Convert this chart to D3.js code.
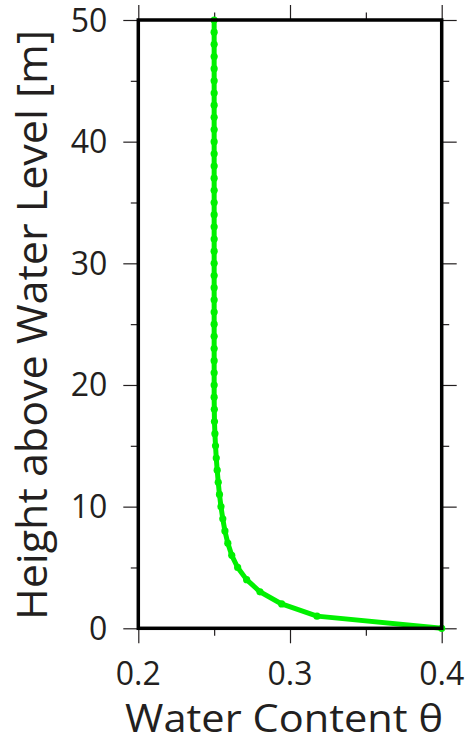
<!DOCTYPE html>
<html>
<head>
<meta charset="utf-8">
<script src="https://cdn.jsdelivr.net/npm/d3@7"></script>
<style>
  body { margin: 0; background: #fff; }
  text { font-family: 'Open Sans', sans-serif; fill: #231f20; }
</style>
</head>
<body>
<div id="chart"></div>
<script>
// height above water level [m], one point per metre
let heights = d3.range(0, 51)
let theta = [
  0.4000, 0.3178, 0.2945, 0.2802, 0.2714, 0.2655, 0.2616, 0.2590, 0.2571, 0.2557,
  0.2545, 0.2535, 0.2527, 0.2520, 0.2514, 0.2509, 0.2505, 0.2502, 0.2501, 0.2500,
  0.2500, 0.2500, 0.2500, 0.2500, 0.2500, 0.2500, 0.2500, 0.2500, 0.2500, 0.2500,
  0.2500, 0.2500, 0.2500, 0.2500, 0.2500, 0.2500, 0.2500, 0.2500, 0.2500, 0.2500,
  0.2500, 0.2500, 0.2500, 0.2500, 0.2500, 0.2500, 0.2500, 0.2500, 0.2500, 0.2500,
  0.2500
]
let xTicks = [0.2, 0.3, 0.4]
let xMinor = [0.25, 0.35]
let yTicks = [0, 10, 20, 30, 40, 50]
let yMinor = [5, 15, 25, 35, 45]
let xTitle = 'Water Content θ'
let yTitle = 'Height above Water Level [m]'

let W = 465
let H = 747
let margin = { top: 20, right: 23.3, bottom: 118.7, left: 138.3 }
let width = W - margin.left - margin.right
let height = H - margin.top - margin.bottom

let svg = d3.select('#chart').append('svg')
  .attr('width', W)
  .attr('height', H)

let g = svg.append('g')
  .attr('transform', 'translate(' + margin.left + ',' + margin.top + ')')

let x = d3.scaleLinear().domain([0.2, 0.4]).range([0, width])
let y = d3.scaleLinear().domain([0, 50]).range([height, 0])

let major = 15
let minor = 7.5

// ticks on all four sides, outside the frame
function tickAxis (axisFn, scale, values, size, pos) {
  let a = g.append('g')
    .attr('transform', pos)
    .call(axisFn(scale).tickValues(values).tickSize(size).tickFormat(''))
  a.select('.domain').remove()
  a.selectAll('line').attr('stroke', '#231f20').attr('stroke-width', 1.2)
  return a
}

tickAxis(d3.axisBottom, x, xTicks, major, 'translate(0,' + height + ')')
tickAxis(d3.axisBottom, x, xMinor, minor, 'translate(0,' + height + ')')
tickAxis(d3.axisTop, x, xTicks, major, 'translate(0,0)')
tickAxis(d3.axisTop, x, xMinor, minor, 'translate(0,0)')
tickAxis(d3.axisLeft, y, yTicks, major, 'translate(0,0)')
tickAxis(d3.axisLeft, y, yMinor, minor, 'translate(0,0)')
tickAxis(d3.axisRight, y, yTicks, major, 'translate(' + width + ',0)')
tickAxis(d3.axisRight, y, yMinor, minor, 'translate(' + width + ',0)')

// tick labels
g.selectAll('.xlab')
  .data(xTicks)
  .enter().append('text')
  .attr('class', 'xlab')
  .attr('x', (d) => x(d))
  .attr('y', height + 57)
  .attr('text-anchor', 'middle')
  .style('font-size', '32px')
  .text((d) => d3.format('.1f')(d))

g.selectAll('.ylab')
  .data(yTicks)
  .enter().append('text')
  .attr('class', 'ylab')
  .attr('x', -31)
  .attr('y', (d) => y(d) + 11.5)
  .attr('text-anchor', 'end')
  .style('font-size', '32px')
  .text((d) => d)

// axis titles: size from the letter height, squeezed to the reference width
svg.append('text')
  .attr('x', 284)
  .attr('y', 732)
  .attr('text-anchor', 'middle')
  .style('font-size', '38px')
  .attr('textLength', 318)
  .attr('lengthAdjust', 'spacingAndGlyphs')
  .text(xTitle)

svg.append('text')
  .attr('transform', 'translate(47,325)rotate(-90)')
  .attr('text-anchor', 'middle')
  .style('font-size', '42px')
  .attr('textLength', 590)
  .attr('lengthAdjust', 'spacingAndGlyphs')
  .text(yTitle)

// the curve
let line = d3.line()
  .x((d, i) => x(theta[i]))
  .y((d) => y(d))

g.append('path')
  .datum(heights)
  .attr('fill', 'none')
  .attr('stroke', '#00f000')
  .attr('stroke-width', 5)
  .attr('stroke-linejoin', 'round')
  .attr('d', line)

g.selectAll('.pt')
  .data(heights)
  .enter().append('circle')
  .attr('class', 'pt')
  .attr('cx', (d, i) => x(theta[i]))
  .attr('cy', (d) => y(d))
  .attr('r', 3.6)
  .attr('fill', '#00f000')

// frame
g.append('rect')
  .attr('width', width)
  .attr('height', height)
  .attr('fill', 'none')
  .attr('stroke', '#000')
  .attr('stroke-width', 3.5)
</script>
</body>
</html>
